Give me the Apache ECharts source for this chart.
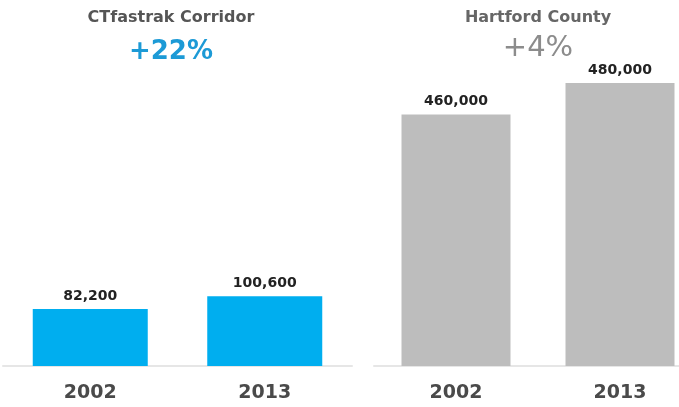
<!DOCTYPE html>
<html>
<head>
<meta charset="utf-8">
<script src="https://cdn.jsdelivr.net/npm/echarts@6/dist/echarts.min.js"></script>
<style>
html,body{margin:0;padding:0;background:#fff;}
#chart{width:679px;height:407px;}
</style>
</head>
<body>
<div id="chart"></div>
<script>
const years = ['2002', '2013'];
const corridorValues = [82200, 100600];
const countyValues = [460000, 480000];
const corridorTitle = 'CTfastrak Corridor';
const corridorChange = '+22%';
const countyTitle = 'Hartford County';
const countyChange = '+4%';

function fmt(v) {
  return String(v).replace(/\B(?=(\d{3})+(?!\d))/g, ',');
}

const FONT = 'DejaVu Sans';
const chart = echarts.init(document.getElementById('chart'));

const xAxisCommon = {
  type: 'category',
  data: years,
  axisTick: { show: false },
  axisLine: { lineStyle: { color: '#e6e6e6', width: 2 } },
  axisLabel: { color: '#4a4a4a', fontSize: 19, fontWeight: 'bold', fontFamily: FONT, margin: 18 }
};

const labelCommon = {
  show: true,
  position: 'top',
  distance: 6,
  color: '#222',
  fontSize: 14,
  fontWeight: 'bold',
  fontFamily: FONT,
  formatter: p => fmt(p.value)
};

chart.setOption({
  backgroundColor: '#fff',
  animation: false,
  title: [
    { text: corridorTitle, left: 171, top: 10, padding: 0, textAlign: 'center',
      textStyle: { color: '#555', fontSize: 16, fontWeight: 'bold', fontFamily: FONT } },
    { text: corridorChange, left: 171, top: 39, padding: 0, textAlign: 'center',
      textStyle: { color: '#1c9ad6', fontSize: 26, fontWeight: 'bold', fontFamily: FONT } },
    { text: countyTitle, left: 538, top: 10, padding: 0, textAlign: 'center',
      textStyle: { color: '#666', fontSize: 16, fontWeight: 'bold', fontFamily: FONT } },
    { text: countyChange, left: 538, top: 34, padding: 0, textAlign: 'center',
      textStyle: { color: '#8c8c8c', fontSize: 29, fontWeight: 'normal', fontFamily: FONT } }
  ],
  grid: [
    { left: 3, width: 349, top: 100, bottom: 41, outerBoundsMode: 'none', containLabel: false },
    { left: 374, width: 328, top: 83, bottom: 41, outerBoundsMode: 'none', containLabel: false }
  ],
  xAxis: [
    Object.assign({ gridIndex: 0 }, xAxisCommon),
    Object.assign({ gridIndex: 1 }, xAxisCommon)
  ],
  yAxis: [
    { gridIndex: 0, type: 'value', min: 0, max: 384000, show: false, splitLine: { show: false } },
    { gridIndex: 1, type: 'value', min: 300000, max: 480000, show: false, splitLine: { show: false } }
  ],
  series: [
    { type: 'bar', xAxisIndex: 0, yAxisIndex: 0, data: corridorValues, barWidth: 115,
      itemStyle: { color: '#00aeef' }, label: labelCommon },
    { type: 'bar', xAxisIndex: 1, yAxisIndex: 1, data: countyValues, barWidth: 109,
      itemStyle: { color: '#bdbdbd' }, label: labelCommon }
  ]
});
</script>
</body>
</html>
